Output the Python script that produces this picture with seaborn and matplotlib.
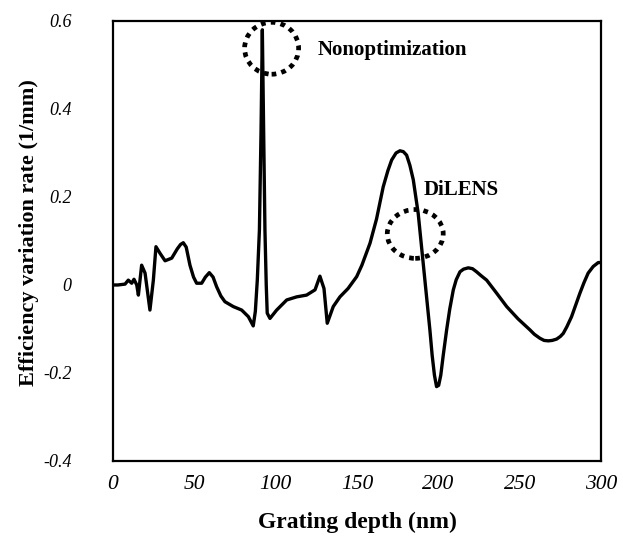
import matplotlib
matplotlib.use("Agg")
import matplotlib.pyplot as plt
from matplotlib.patches import Ellipse
import seaborn as sns
import pandas as pd

# Grating depth (nm) and efficiency variation rate (1/mm)
depth = [0, 3, 7.4, 9.4, 11.5, 12.9, 14.6, 15.6, 17.6, 19.7, 21.2, 22.7, 24.8, 26.4,
         28.9, 32.0, 36.1, 39.5, 41.5, 43.2, 45.0, 47.3, 49.5, 51.4, 54.5, 56.8, 59.2,
         61.5, 63.7, 66.3, 68.8, 73.9, 79.1, 83.2, 86.2, 87.5, 88.7, 90.0, 91.0,
         91.8, 92.6, 93.4, 94.2, 94.8, 96.5, 100.6, 106.8, 112.9, 119.0, 124.2,
         127.2, 129.7, 131.7, 135.4, 139.5, 144.5, 149.8, 153.0, 158.0, 162.0,
         166.1, 169.0, 171.3, 174.0, 176.4, 178.5, 180.5, 182.5, 184.6, 187.6,
         190.7, 194.8, 196.2, 197.6, 198.9, 200.2, 201.5, 203.0, 205.1, 207.0,
         209.2, 211.0, 213.3, 215.5, 218.4, 221.0, 223.5, 226.0, 229.7, 235.5,
         242.0, 249.0, 256.3, 259.0, 262.4, 265.0, 267.6, 270.0, 272.7, 275.0,
         276.8, 279.0, 281.9, 284.5, 287.0, 289.5, 292.1, 295.2, 298.3, 300.0]
rate = [0.0, 0.0, 0.002, 0.011, 0.004, 0.013, 0.0, -0.023, 0.045, 0.027, -0.015, -0.057,
        0.011, 0.087, 0.072, 0.055, 0.061, 0.082, 0.092, 0.096, 0.086, 0.045, 0.018,
        0.004, 0.004, 0.018, 0.028, 0.018, -0.004, -0.025, -0.038, -0.049, -0.057,
        -0.072, -0.093, -0.06, 0.011, 0.125, 0.35, 0.58, 0.35, 0.125, 0.0, -0.064,
        -0.076, -0.057, -0.034, -0.027, -0.023, -0.011, 0.020, -0.008, -0.087,
        -0.049, -0.027, -0.008, 0.019, 0.045, 0.095, 0.150, 0.223, 0.260, 0.284,
        0.300, 0.305, 0.303, 0.295, 0.272, 0.239, 0.163, 0.049, -0.102, -0.160,
        -0.205, -0.231, -0.228, -0.205, -0.160, -0.102, -0.055, -0.011, 0.012,
        0.030, 0.036, 0.039, 0.037, 0.030, 0.022, 0.011, -0.017, -0.049, -0.077,
        -0.102, -0.112, -0.121, -0.126, -0.127, -0.126, -0.123, -0.117, -0.110,
        -0.095, -0.072, -0.045, -0.019, 0.005, 0.027, 0.042, 0.051, 0.051]

x_ticks = [0, 50, 100, 150, 200, 250, 300]
x_tick_labels = ["0", "50", "100", "150", "200", "250", "300"]
y_ticks = [-0.4, -0.2, 0, 0.2, 0.4, 0.6]
y_tick_labels = ["-0.4", "-0.2", "0", "0.2", "0.4", "0.6"]

annotations = ["Nonoptimization", "DiLENS"]

sns.set_theme(style="white")
plt.rcParams["font.family"] = ["Liberation Serif", "DejaVu Serif"]

fig = plt.figure(figsize=(6.23, 5.48), dpi=100)
ax = fig.add_axes([0.1814, 0.1588, 0.7833, 0.8029])

df = pd.DataFrame({"depth": depth, "rate": rate})
sns.lineplot(data=df, x="depth", y="rate", ax=ax, color="black", linewidth=2.4,
             estimator=None, sort=False)
for l in ax.get_lines():
    l.set_solid_joinstyle("round")

ax.set_xlim(0, 300)
ax.set_ylim(-0.4, 0.6)
ax.set_xticks(x_ticks)
ax.set_xticklabels(x_tick_labels, fontstyle="italic", fontsize=15.5)
ax.set_yticks(y_ticks)
ax.set_yticklabels(y_tick_labels, fontstyle="italic", fontsize=13)
ax.tick_params(axis="x", direction="in", length=5, width=1.3, pad=10, colors="black")
ax.tick_params(axis="y", direction="in", length=5, width=1.3, pad=30, colors="black")

for s in ax.spines.values():
    s.set_visible(True)
    s.set_color("black")
    s.set_linewidth(1.6)

ax.set_xlabel("Grating depth (nm)", fontsize=17, fontweight="bold", color="black")
ax.set_ylabel("Efficiency variation rate (1/mm)", fontsize=16, fontweight="bold", color="black")
ax.xaxis.set_label_coords(0.5, -0.139)
ax.xaxis.label.set_va("center")
ax.yaxis.set_label_coords(-0.172, 0.52)
ax.yaxis.label.set_va("center")

# dotted circles
for (cx, cy, w, h) in [(97.5, 0.538, 33.2, 0.118), (185.8, 0.116, 34.4, 0.111)]:
    e = Ellipse((cx, cy), w, h, fill=False, edgecolor="black", linewidth=3.4,
                linestyle=(0, (1, 1.1)), zorder=5)
    e.set_capstyle("butt")
    ax.add_patch(e)

ax.text(125.6, 0.534, annotations[0], fontsize=15, fontweight="bold", ha="left",
        va="center", color="black")
ax.text(191.2, 0.216, annotations[1], fontsize=15, fontweight="bold", ha="left",
        va="center", color="black")

fig.savefig("out.png", dpi=100)
